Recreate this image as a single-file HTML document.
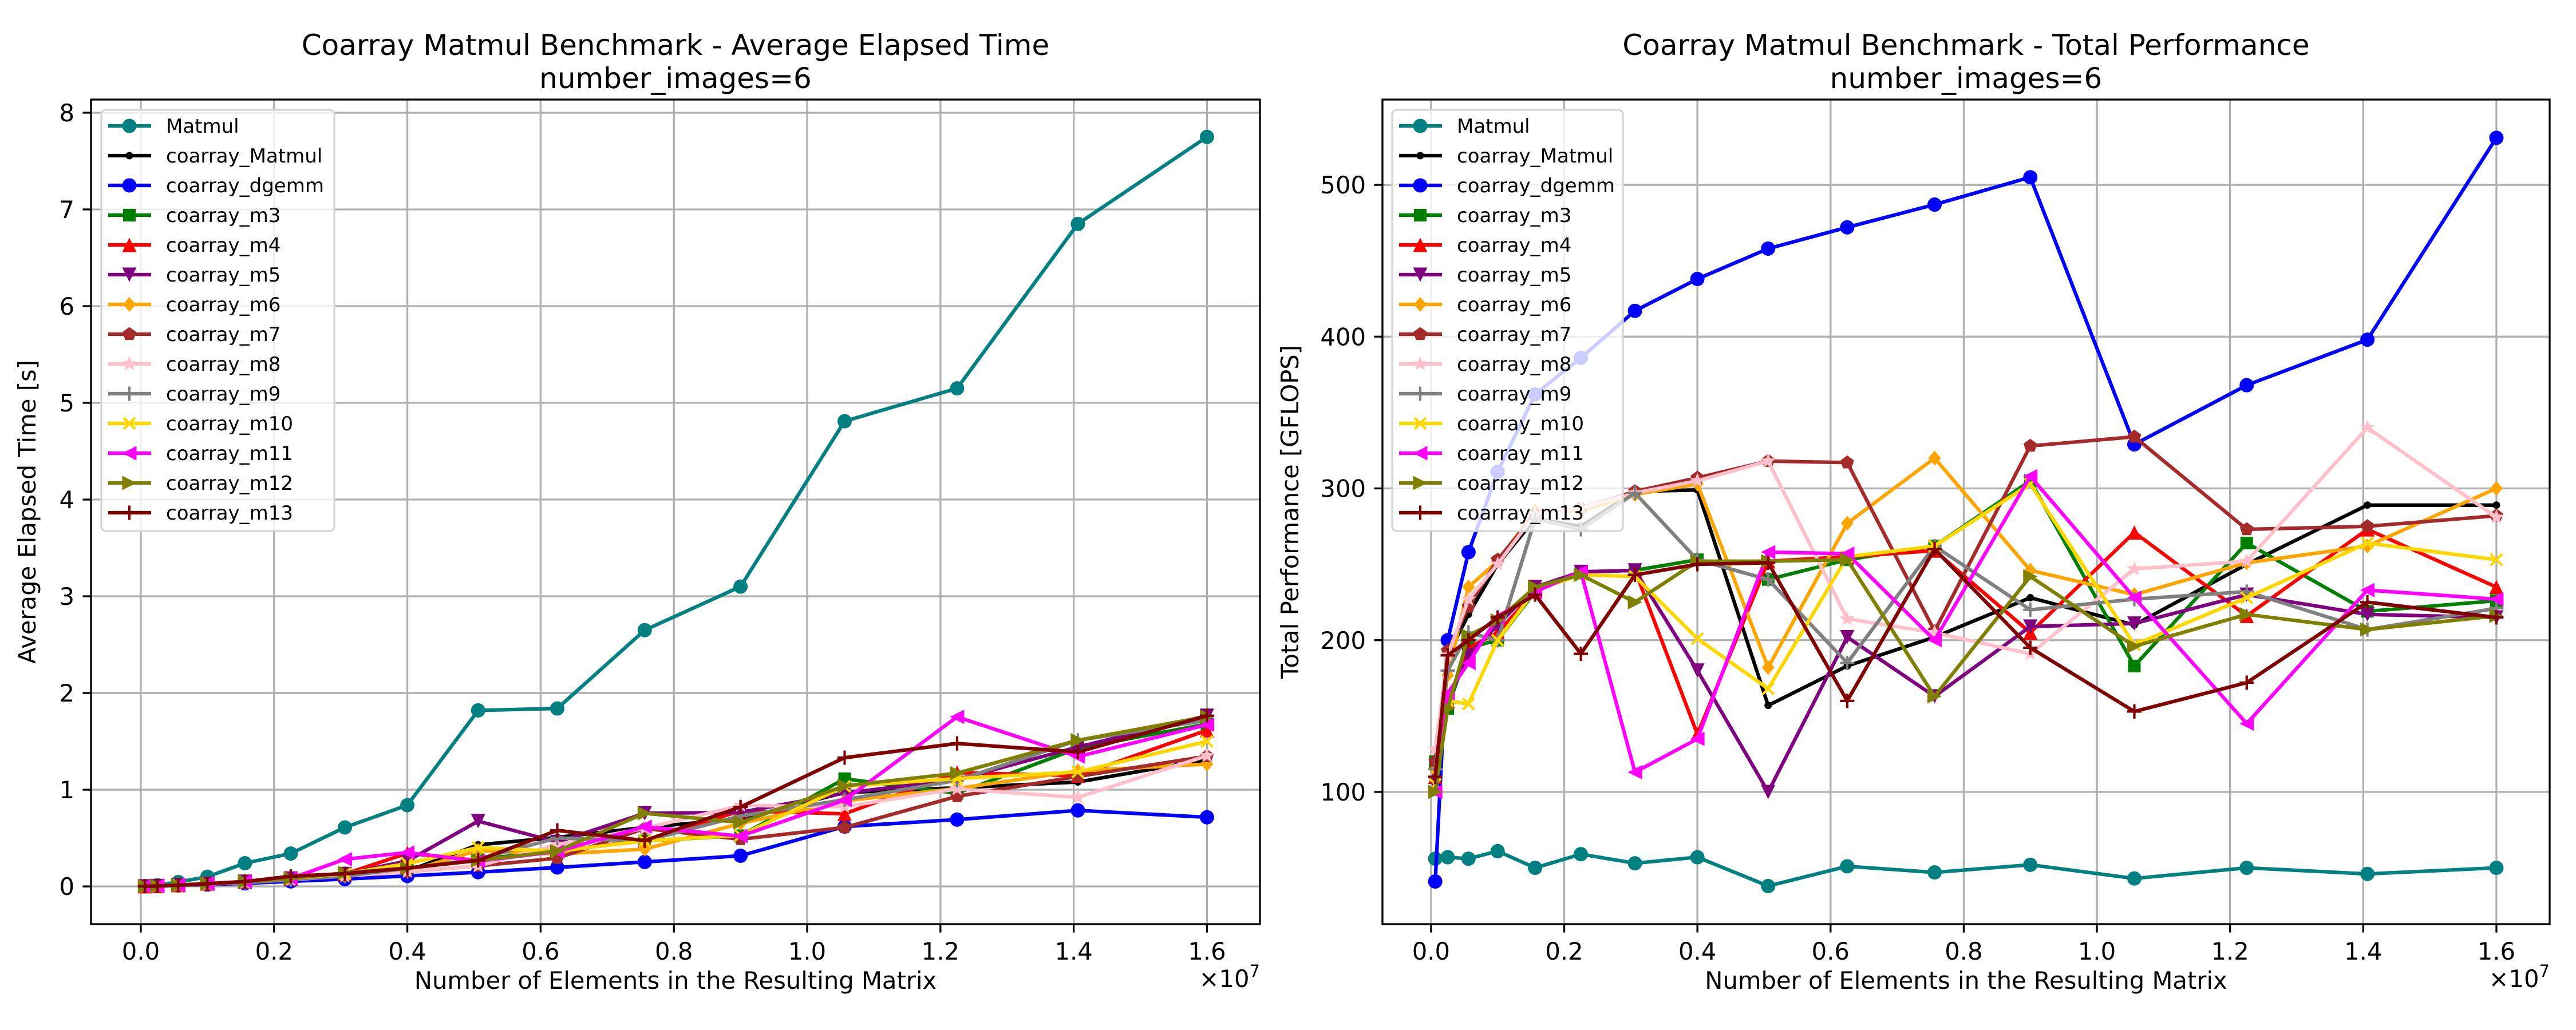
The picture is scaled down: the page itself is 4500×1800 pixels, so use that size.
<!DOCTYPE html>
<html><head><meta charset="utf-8"><title>Coarray Matmul Benchmark</title>
<style>
html,body{margin:0;padding:0;background:#fff;}
svg{display:block;font-family:"DejaVu Sans","Liberation Sans",sans-serif;}
</style></head>
<body>
<svg id="fig" xmlns="http://www.w3.org/2000/svg" width="4500" height="1800" viewBox="0 0 4500 1800">
<rect x="0" y="0" width="4500" height="1800" fill="#fff"/>
<defs>
<clipPath id="clipL"><rect x="159" y="174" width="2042" height="1441"/></clipPath>
<clipPath id="clipR"><rect x="2415" y="174" width="2039" height="1441"/></clipPath>
</defs>
<g id="left"></g>
<g id="right"></g>
</svg>
<script>
// ---- data ----
const xValues = [0.00625,0.025,0.05625,0.1,0.15625,0.225,0.30625,0.4,0.50625,0.625,0.75625,0.9,1.05625,1.225,1.40625,1.6];
const xTickLabels = ["0.0","0.2","0.4","0.6","0.8","1.0","1.2","1.4","1.6"];
const xTickValues = [0,0.2,0.4,0.6,0.8,1.0,1.2,1.4,1.6];
const timeTickValues = [0,1,2,3,4,5,6,7,8];
const perfTickValues = [100,200,300,400,500];
const seriesNames = ["Matmul","coarray_Matmul","coarray_dgemm","coarray_m3","coarray_m4","coarray_m5","coarray_m6","coarray_m7","coarray_m8","coarray_m9","coarray_m10","coarray_m11","coarray_m12","coarray_m13"];

const timeMatmul = [0.002,0.013,0.045,0.10,0.24,0.34,0.61,0.84,1.82,1.84,2.65,3.10,4.81,5.15,6.85,7.75];
const timeCoMatmul = [0.001,0.004,0.012,0.024,0.041,0.073,0.107,0.159,0.43,0.507,0.61,0.70,0.97,1.02,1.08,1.31];
const timeDgemm = [0.002,0.004,0.010,0.019,0.032,0.052,0.076,0.108,0.147,0.196,0.253,0.317,0.619,0.691,0.786,0.715];
const timeM3 = [0.001,0.005,0.013,0.030,0.050,0.082,0.129,0.187,0.281,0.366,0.471,0.525,1.113,0.963,1.428,1.679];
const timeM4 = [0.001,0.005,0.013,0.029,0.050,0.082,0.129,0.343,0.268,0.364,0.476,0.781,0.751,1.177,1.145,1.615];
const timeM5 = [0.001,0.005,0.013,0.028,0.049,0.082,0.129,0.263,0.675,0.459,0.756,0.766,0.965,1.105,1.441,1.765];
const timeM6 = [0.001,0.004,0.011,0.024,0.041,0.070,0.107,0.156,0.371,0.335,0.385,0.651,0.885,1.013,1.194,1.265];
const timeM7 = [0.001,0.004,0.011,0.023,0.041,0.070,0.107,0.154,0.212,0.292,0.599,0.488,0.610,0.931,1.137,1.346];
const timeM8 = [0.001,0.004,0.011,0.024,0.041,0.070,0.107,0.155,0.212,0.433,0.601,0.838,0.824,1.009,0.920,1.351];
const timeM9 = [0.001,0.004,0.012,0.030,0.041,0.073,0.107,0.187,0.281,0.501,0.471,0.728,0.897,1.096,1.511,1.717];
const timeM10 = [0.001,0.005,0.016,0.030,0.050,0.082,0.131,0.236,0.402,0.364,0.471,0.528,1.034,1.115,1.184,1.50];
const timeM11 = [0.001,0.004,0.014,0.028,0.050,0.082,0.281,0.351,0.262,0.361,0.617,0.520,0.893,1.753,1.342,1.672];
const timeM12 = [0.001,0.005,0.012,0.028,0.049,0.082,0.141,0.188,0.268,0.366,0.756,0.662,1.039,1.171,1.511,1.757];
const timeM13 = [0.001,0.004,0.013,0.028,0.050,0.105,0.131,0.190,0.269,0.579,0.474,0.821,1.331,1.478,1.390,1.765];

const perfMatmul = [56,57,56,61,50,59,53,57,38,51,47,52,43,50,46,50];
const perfCoMatmul = [110,190,217,250,280,275,298,299,157,183,202,228,210,250,289,289];
const perfDgemm = [41,200,258,311,362,386,417,438,458,472,487,505,329,368,398,531];
const perfM3 = [120,155,195,200,232,245,246,253,240,253,262,305,183,264,219,226];
const perfM4 = [110,160,195,205,232,245,246,138,252,255,259,205,271,216,273,235];
const perfM5 = [105,160,190,210,235,245,246,180,100,202,163,209,211,230,217,215];
const perfM6 = [115,177,235,252,285,285,296,303,182,277,320,246,230,251,262,300];
const perfM7 = [120,193,222,253,283,287,298,307,318,317,206,328,334,273,275,282];
const perfM8 = [128,190,227,250,283,287,297,305,318,214,205,191,247,252,340,281];
const perfM9 = [115,180,205,200,280,273,297,253,240,185,262,220,227,232,207,221];
const perfM10 = [105,160,158,200,233,243,242,201,168,255,262,303,197,228,264,253];
const perfM11 = [100,165,185,215,232,245,113,135,258,257,200,308,228,145,233,227];
const perfM12 = [100,155,203,213,235,243,225,252,252,253,163,242,196,217,207,216];
const perfM13 = [110,190,200,215,230,191,243,250,251,160,260,195,153,172,225,215];

const timeSeries = [timeMatmul,timeCoMatmul,timeDgemm,timeM3,timeM4,timeM5,timeM6,timeM7,timeM8,timeM9,timeM10,timeM11,timeM12,timeM13];
const perfSeries = [perfMatmul,perfCoMatmul,perfDgemm,perfM3,perfM4,perfM5,perfM6,perfM7,perfM8,perfM9,perfM10,perfM11,perfM12,perfM13];

// ---- styles ----
const colors = ["#008080","#000000","#0000ff","#008000","#ff0000","#800080","#ffa500","#a52a2a","#ffc0cb","#808080","#ffd700","#ff00ff","#808000","#800000"];
const markers = ["o",".","o","s","^","v","D","p","*","+","x","<",">","+"];

const NS = "http://www.w3.org/2000/svg";
function mk(tag, attrs, parent){
  const e = document.createElementNS(NS, tag);
  for (const k in attrs) e.setAttribute(k, attrs[k]);
  if (parent) parent.appendChild(e);
  return e;
}

function marker(g, type, cx, cy, color){
  const r = 12.5;
  let e;
  if (type === "o") e = mk("circle",{cx:cx,cy:cy,r:r,fill:color},g);
  else if (type === ".") e = mk("circle",{cx:cx,cy:cy,r:6.5,fill:color},g);
  else if (type === "s") e = mk("rect",{x:cx-11,y:cy-11,width:22,height:22,fill:color},g);
  else if (type === "D") e = mk("polygon",{points:`${cx},${cy-13} ${cx+11},${cy} ${cx},${cy+13} ${cx-11},${cy}`,fill:color},g);
  else if (type === "^") e = mk("polygon",{points:`${cx},${cy-r} ${cx+r},${cy+r} ${cx-r},${cy+r}`,fill:color},g);
  else if (type === "v") e = mk("polygon",{points:`${cx},${cy+r} ${cx+r},${cy-r} ${cx-r},${cy-r}`,fill:color},g);
  else if (type === "<") e = mk("polygon",{points:`${cx-r},${cy} ${cx+r},${cy-r} ${cx+r},${cy+r}`,fill:color},g);
  else if (type === ">") e = mk("polygon",{points:`${cx+r},${cy} ${cx-r},${cy-r} ${cx-r},${cy+r}`,fill:color},g);
  else if (type === "p" || type === "*"){
    const n = 5, pts = [];
    const outer = type === "p" ? 12.5 : 14, inner = type === "p" ? 12.5 : 6;
    const steps = type === "p" ? 5 : 10;
    for (let i=0;i<steps;i++){
      const a = -Math.PI/2 + i*2*Math.PI/steps;
      const rr = (type === "*" && i%2===1) ? inner : outer;
      pts.push((cx+rr*Math.cos(a)).toFixed(1)+","+(cy+rr*Math.sin(a)).toFixed(1));
    }
    e = mk("polygon",{points:pts.join(" "),fill:color},g);
  }
  else if (type === "+") e = mk("path",{d:`M${cx-r} ${cy}H${cx+r}M${cx} ${cy-r}V${cy+r}`,stroke:color,"stroke-width":4.2,fill:"none"},g);
  else if (type === "x") e = mk("path",{d:`M${cx-10} ${cy-10}L${cx+10} ${cy+10}M${cx-10} ${cy+10}L${cx+10} ${cy-10}`,stroke:color,"stroke-width":4.2,fill:"none"},g);
  
  
  return e;
}

function drawChart(root, cfg){
  const sx = v => cfg.left + (v - cfg.xmin)/(cfg.xmax - cfg.xmin)*(cfg.right - cfg.left);
  const sy = v => cfg.bottom - (v - cfg.ymin)/(cfg.ymax - cfg.ymin)*(cfg.bottom - cfg.top);
  const grid = mk("g",{},root);
  
  
  xTickValues.forEach((v,i)=>{
    const x = sx(v);
    const gl = mk("line",{x1:x,x2:x,y1:cfg.top,y2:cfg.bottom,stroke:"#b0b0b0","stroke-width":3.3},grid);
    
    
    const tk = mk("line",{x1:x,x2:x,y1:cfg.bottom,y2:cfg.bottom+14.6,stroke:"#000","stroke-width":3.3},root);
    
    
    const tl = mk("text",{x:x,y:cfg.bottom+62,"font-size":41.7,"text-anchor":"middle",fill:"#000"},root);
    tl.textContent = xTickLabels[i];
    
    
  });
  cfg.yTicks.forEach(v=>{
    const y = sy(v);
    const gl = mk("line",{x1:cfg.left,x2:cfg.right,y1:y,y2:y,stroke:"#b0b0b0","stroke-width":3.3},grid);
    
    
    const tk = mk("line",{x1:cfg.left-14.6,x2:cfg.left,y1:y,y2:y,stroke:"#000","stroke-width":3.3},root);
    
    
    const tl = mk("text",{x:cfg.left-29,y:y+15,"font-size":41.7,"text-anchor":"end",fill:"#000"},root);
    tl.textContent = String(v);
    
    
  });
  const plot = mk("g",{"clip-path":cfg.clip},root);
  
  
  cfg.series.forEach((vals,si)=>{
    const sg = mk("g",{},plot);
    
    
    const d = vals.map((v,i)=>(i?"L":"M")+sx(xValues[i]).toFixed(1)+" "+sy(v).toFixed(1)).join("");
    const p = mk("path",{d:d,fill:"none",stroke:colors[si],"stroke-width":6.25,"stroke-linejoin":"round","stroke-linecap":"square"},sg);
    
    
    vals.forEach((v,i)=>marker(sg, markers[si], sx(xValues[i]), sy(v), colors[si]));
  });
  const frame = mk("rect",{x:cfg.left,y:cfg.top,width:cfg.right-cfg.left,height:cfg.bottom-cfg.top,fill:"none",stroke:"#000","stroke-width":3.3},root);
  
  
  const cx = (cfg.left+cfg.right)/2;
  const t1 = mk("text",{x:cx,y:96,"font-size":50,"text-anchor":"middle",fill:"#000"},root);
  t1.textContent = cfg.title;
  
  
  const t2 = mk("text",{x:cx,y:154,"font-size":50,"text-anchor":"middle",fill:"#000"},root);
  t2.textContent = "number_images=6";
  
  
  const xl = mk("text",{x:cx,y:1728,"font-size":41.7,"text-anchor":"middle",fill:"#000"},root);
  xl.textContent = "Number of Elements in the Resulting Matrix";
  
  
  const off = mk("text",{x:cfg.right,y:1725,"font-size":41.7,"text-anchor":"end",fill:"#000"},root);
  off.textContent = "×10";
  const sup = mk("tspan",{dy:-18,"font-size":29},off);
  sup.textContent = "7";
  
  
  const yl = mk("text",{x:0,y:0,"font-size":41.7,"text-anchor":"middle",fill:"#000",transform:`translate(${cfg.ylabelX},${(cfg.top+cfg.bottom)/2}) rotate(-90)`},root);
  yl.textContent = cfg.ylabel;
  
  
  // legend
  const lg = mk("g",{},root);
  
  
  const lb = mk("rect",{x:cfg.legX,y:192,width:cfg.legW,height:736,rx:8,fill:"#fff","fill-opacity":0.8,stroke:"#d5d5d5","stroke-width":3.3},lg);
  
  
  seriesNames.forEach((name,si)=>{
    const y = 220 + si*52;
    const eg = mk("g",{},lg);
    
    
    const hl = mk("line",{x1:cfg.legX+12,x2:cfg.legX+87,y1:y,y2:y,stroke:colors[si],"stroke-width":6.25},eg);
    
    
    marker(eg, markers[si], cfg.legX+49, y, colors[si]);
    const tx = mk("text",{x:cfg.legX+113,y:y+12,"font-size":34,fill:"#000"},eg);
    tx.textContent = name;
    
    
  });
}

drawChart(document.getElementById("left"), {
  left:159, right:2201, top:174, bottom:1615,
  xmin:-0.0747, xmax:1.6795, ymin:-0.39, ymax:8.136,
  yTicks: timeTickValues, series: timeSeries, clip:"url(#clipL)",
  title:"Coarray Matmul Benchmark - Average Elapsed Time",
  ylabel:"Average Elapsed Time [s]", ylabelX:62, legX:177, legW:407
});
drawChart(document.getElementById("right"), {
  left:2415, right:4454, top:174, bottom:1615,
  xmin:-0.073, xmax:1.680, ymin:12.9, ymax:556.2,
  yTicks: perfTickValues, series: perfSeries, clip:"url(#clipR)",
  title:"Coarray Matmul Benchmark - Total Performance",
  ylabel:"Total Performance [GFLOPS]", ylabelX:2268, legX:2432, legW:403
});
</script>
</body></html>
